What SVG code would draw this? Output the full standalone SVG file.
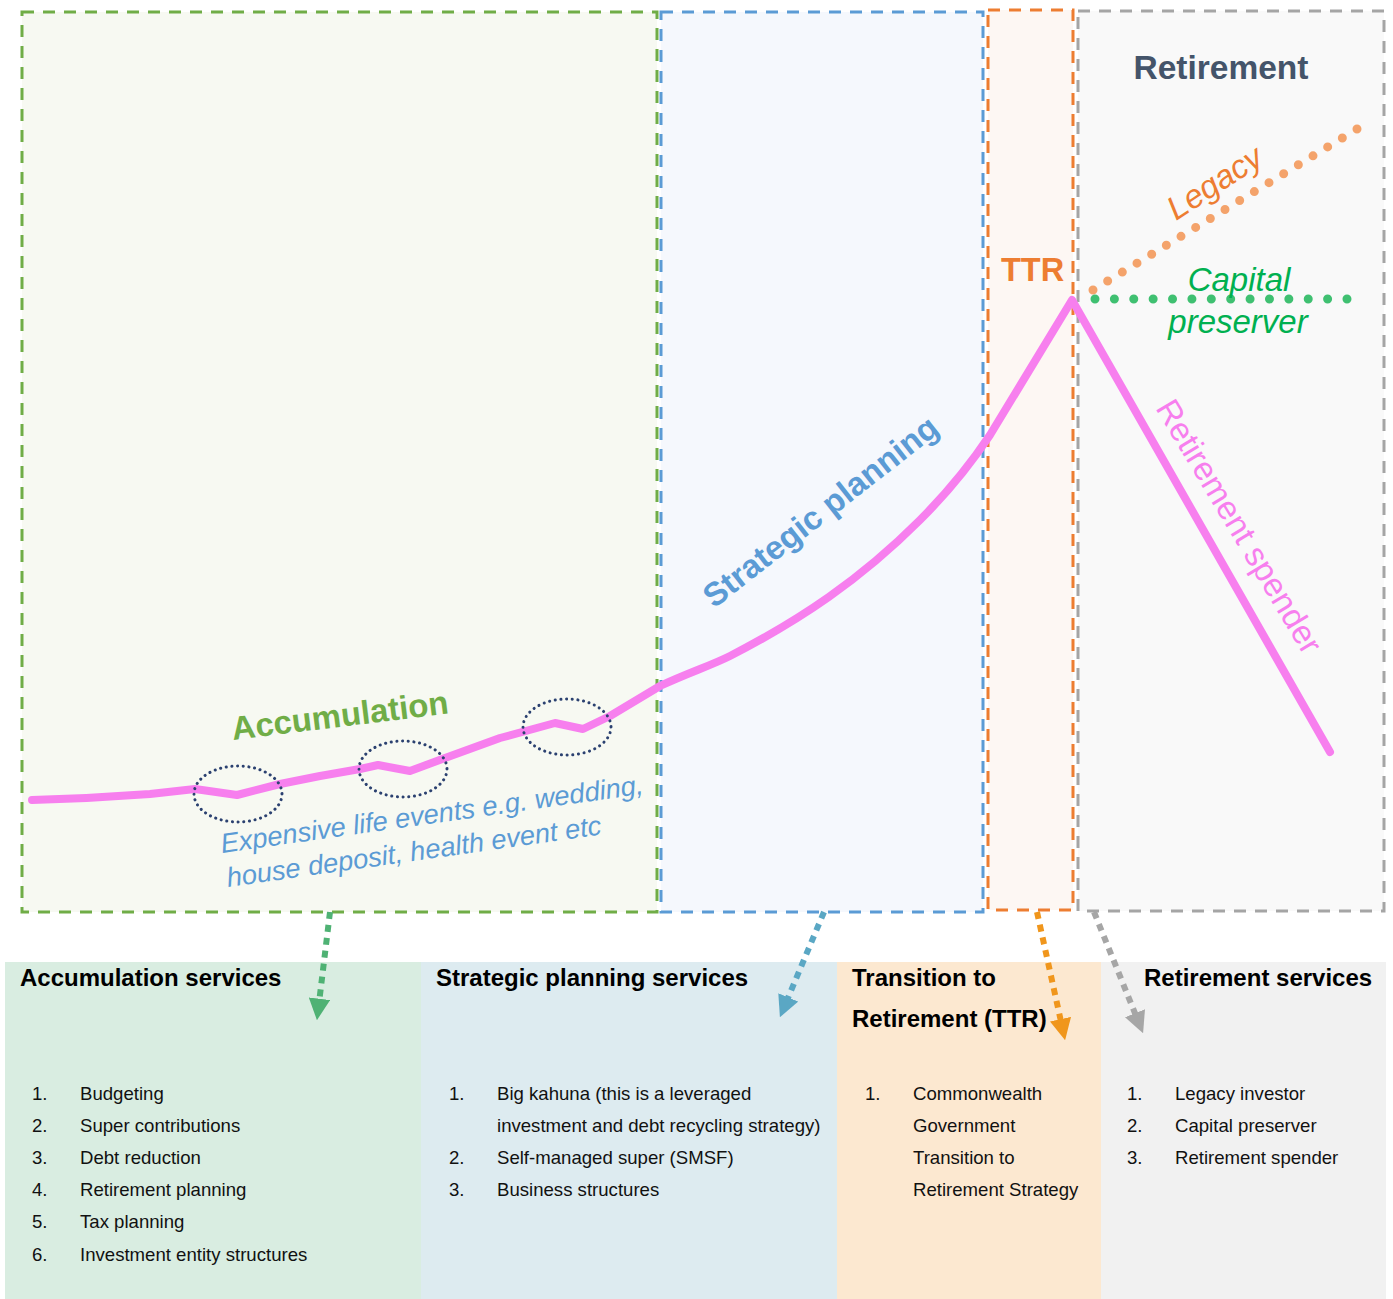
<svg xmlns="http://www.w3.org/2000/svg" width="1393" height="1299" viewBox="0 0 1393 1299">
  <style>
    .zone { stroke-width: 3; stroke-dasharray: 12 9; }
    .panel-title { font-family: "Liberation Sans", Arial, sans-serif; font-size: 24px; font-weight: bold; fill: #000; }
    .item { font-family: "Liberation Sans", Arial, sans-serif; font-size: 18.6px; fill: #111; }
    .big { font-family: "Liberation Sans", Arial, sans-serif; font-weight: bold; }
    .ital { font-family: "Liberation Sans", Arial, sans-serif; font-style: italic; }
    .plain { font-family: "Liberation Sans", Arial, sans-serif; }
    .event { fill: none; stroke: #2b4170; stroke-width: 3; stroke-dasharray: 0.1 5.6; stroke-linecap: round; }
    .link { fill: none; stroke-width: 6; stroke-dasharray: 7 6; }
  </style>
  <defs>
    <marker id="headGreen" viewBox="0 0 10 10" refX="2" refY="5" markerWidth="3.6" markerHeight="3.6" orient="auto" markerUnits="strokeWidth">
      <path d="M0,0 L10,5 L0,10 z" fill="#4fb274"/>
    </marker>
    <marker id="headBlue" viewBox="0 0 10 10" refX="2" refY="5" markerWidth="3.6" markerHeight="3.6" orient="auto" markerUnits="strokeWidth">
      <path d="M0,0 L10,5 L0,10 z" fill="#5aa7c4"/>
    </marker>
    <marker id="headOrange" viewBox="0 0 10 10" refX="2" refY="5" markerWidth="3.6" markerHeight="3.6" orient="auto" markerUnits="strokeWidth">
      <path d="M0,0 L10,5 L0,10 z" fill="#f0961c"/>
    </marker>
    <marker id="headGray" viewBox="0 0 10 10" refX="2" refY="5" markerWidth="3.6" markerHeight="3.6" orient="auto" markerUnits="strokeWidth">
      <path d="M0,0 L10,5 L0,10 z" fill="#a6a6a6"/>
    </marker>
  </defs>

  <rect width="1393" height="1299" fill="#ffffff"/>

  <!-- life-stage zones -->
  <g id="zone-accumulation">
    <rect class="zone" x="22" y="12" width="635" height="900" fill="#f7f9f2" stroke="#70ad47"/>
    <text class="big" x="233" y="740" font-size="33" fill="#70ad47" transform="rotate(-7 233 740)">Accumulation</text>
  </g>
  <g id="zone-strategic">
    <rect class="zone" x="661" y="12" width="322" height="900" fill="#f5f8fd" stroke="#5b9bd5"/>
    <text class="big" x="714" y="609" font-size="33" fill="#5b9bd5" transform="rotate(-38 714 609)">Strategic planning</text>
  </g>
  <g id="zone-ttr">
    <rect class="zone" x="988" y="10" width="85" height="900" fill="#fdf7f3" stroke="#ed7d31"/>
    <text class="big" x="1001" y="281" font-size="32.5" fill="#ed7d31">TTR</text>
  </g>
  <g id="zone-retirement">
    <rect class="zone" x="1078" y="11" width="306" height="900" fill="#f9f9f9" stroke="#a5a5a5"/>
    <text class="big" x="1221" y="79" font-size="33.5" fill="#44546a" text-anchor="middle">Retirement</text>
  </g>

  <!-- retirement paths -->
  <g id="path-legacy">
    <line x1="1093" y1="290" x2="1357" y2="129" pathLength="18" stroke="#f4a36b" stroke-width="9" stroke-linecap="round" stroke-dasharray="0 1"/>
    <text class="ital" x="1176" y="221" font-size="33" fill="#ed7d31" transform="rotate(-33 1176 221)">Legacy</text>
  </g>
  <g id="path-capital-preserver">
    <line x1="1095" y1="299" x2="1347" y2="299" pathLength="13" stroke="#3fc071" stroke-width="9" stroke-linecap="round" stroke-dasharray="0 1"/>
    <text class="ital" x="1239" y="291" font-size="33" fill="#00b050" text-anchor="middle">Capital</text>
    <text class="ital" x="1238" y="333" font-size="33" fill="#00b050" text-anchor="middle">preserver</text>
  </g>

  <!-- wealth curve -->
  <g id="wealth-curve">
    <path d="M32,800 C70,799 110,797 150,794 L195,789 L237,795 L280,784 L320,776 L360,769 L378,765 L410,771 L445,758 L500,738 L555,723 L583,729 L610,716 L660,686 C690,672 710,666 730,656 C800,620 860,580 920,520 C950,490 970,465 990,435 L1072,300 L1330,752"
          fill="none" stroke="#f77fee" stroke-width="8" stroke-linejoin="round" stroke-linecap="round"/>
    <text class="plain" x="1155" y="408" font-size="33" fill="#f77fee" transform="rotate(59 1155 408)">Retirement spender</text>
  </g>

  <!-- expensive life events -->
  <g id="life-events">
    <ellipse class="event" cx="238" cy="794" rx="44" ry="28"/>
    <ellipse class="event" cx="403" cy="769" rx="44" ry="28"/>
    <ellipse class="event" cx="567" cy="727" rx="44" ry="28"/>
    <text class="ital" x="222" y="853" font-size="27.3" fill="#5b9bd5" transform="rotate(-8 222 853)">Expensive life events e.g. wedding,</text>
    <text class="ital" x="228" y="887" font-size="27.3" fill="#5b9bd5" transform="rotate(-8 228 887)">house deposit, health event etc</text>
  </g>

  <!-- service panels -->
  <g id="panel-accumulation">
    <rect x="5" y="962" width="416" height="337" fill="#d9ede1"/>
    <text class="panel-title" x="20" y="986">Accumulation services</text>
    <g class="item">
      <text x="32" y="1100">1.</text><text x="80" y="1100">Budgeting</text>
      <text x="32" y="1132">2.</text><text x="80" y="1132">Super contributions</text>
      <text x="32" y="1164">3.</text><text x="80" y="1164">Debt reduction</text>
      <text x="32" y="1196">4.</text><text x="80" y="1196">Retirement planning</text>
      <text x="32" y="1228">5.</text><text x="80" y="1228">Tax planning</text>
      <text x="32" y="1261">6.</text><text x="80" y="1261">Investment entity structures</text>
    </g>
  </g>
  <g id="panel-strategic">
    <rect x="421" y="962" width="416" height="337" fill="#ddebf0"/>
    <text class="panel-title" x="436" y="986">Strategic planning services</text>
    <g class="item">
      <text x="449" y="1100">1.</text><text x="497" y="1100">Big kahuna (this is a leveraged</text>
      <text x="497" y="1132">investment and debt recycling strategy)</text>
      <text x="449" y="1164">2.</text><text x="497" y="1164">Self-managed super (SMSF)</text>
      <text x="449" y="1196">3.</text><text x="497" y="1196">Business structures</text>
    </g>
  </g>
  <g id="panel-ttr">
    <rect x="837" y="962" width="264" height="337" fill="#fce8d0"/>
    <text class="panel-title" x="852" y="986">Transition to</text>
    <text class="panel-title" x="852" y="1027">Retirement (TTR)</text>
    <g class="item">
      <text x="865" y="1100">1.</text><text x="913" y="1100">Commonwealth</text>
      <text x="913" y="1132">Government</text>
      <text x="913" y="1164">Transition to</text>
      <text x="913" y="1196">Retirement Strategy</text>
    </g>
  </g>
  <g id="panel-retirement">
    <rect x="1101" y="962" width="285" height="337" fill="#f1f1f1"/>
    <text class="panel-title" x="1144" y="986">Retirement services</text>
    <g class="item">
      <text x="1127" y="1100">1.</text><text x="1175" y="1100">Legacy investor</text>
      <text x="1127" y="1132">2.</text><text x="1175" y="1132">Capital preserver</text>
      <text x="1127" y="1164">3.</text><text x="1175" y="1164">Retirement spender</text>
    </g>
  </g>

  <!-- zone-to-panel connectors -->
  <g id="connectors">
    <line class="link" x1="330" y1="912" x2="319" y2="1003" stroke="#4fb274" marker-end="url(#headGreen)"/>
    <line class="link" x1="824" y1="912" x2="786.6" y2="1001.3" stroke="#5aa7c4" marker-end="url(#headBlue)"/>
    <line class="link" x1="1037" y1="912" x2="1061.4" y2="1023.4" stroke="#f0961c" marker-end="url(#headOrange)"/>
    <line class="link" x1="1094" y1="912" x2="1136.6" y2="1017.2" stroke="#a6a6a6" marker-end="url(#headGray)"/>
  </g>
</svg>
